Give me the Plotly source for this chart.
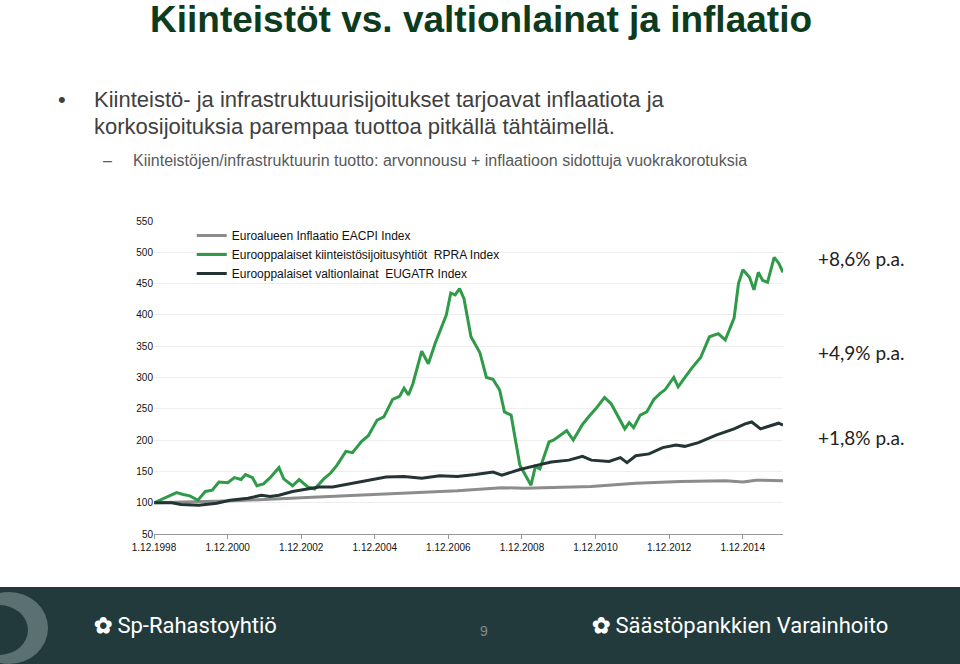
import plotly.graph_objects as go
import pandas as pd

# RPRA (green)
rpra_t = [1998.92,1999.28,1999.53,1999.71,1999.89,2000.11,2000.31,2000.50,2000.68,2000.92,2001.10,2001.28,2001.40,2001.59,2001.71,2001.89,2002.07,2002.31,2002.44,2002.68,2002.86,2003.10,2003.28,2003.53,2003.71,2003.89,2004.13,2004.31,2004.56,2004.74,2004.98,2005.16,2005.40,2005.59,2005.71,2005.83,2005.95,2006.19,2006.37,2006.56,2006.86,2006.98,2007.10,2007.22,2007.34,2007.53,2007.77,2007.95,2008.13,2008.31,2008.44,2008.62,2008.86,2009.16,2009.28,2009.40,2009.65,2009.77,2009.95,2010.13,2010.31,2010.56,2010.74,2010.92,2011.16,2011.34,2011.71,2011.83,2011.95,2012.13,2012.31,2012.50,2012.68,2012.80,2013.04,2013.16,2013.28,2013.53,2013.77,2014.01,2014.25,2014.44,2014.68,2014.80,2014.92,2015.10,2015.22,2015.34,2015.46,2015.59,2015.77,2015.89,2016.01]
rpra_v = [100,110,116,113,111,104,118,120,133,132,140,137,145,140,127,130,140,156,138,127,137,125,122,138,147,160,182,180,198,207,232,237,265,270,283,272,290,342,322,355,400,435,432,442,426,365,340,300,297,280,245,240,160,128,158,154,197,200,208,215,200,225,238,250,268,258,218,228,220,240,245,265,275,280,300,285,295,315,332,365,370,360,395,450,472,460,440,468,455,452,492,483,468]
# EUGATR (dark)
eug_t = [1998.92,1999.40,1999.65,2000.13,2000.62,2000.98,2001.47,2001.83,2002.07,2002.31,2002.68,2003.04,2003.40,2003.77,2004.25,2004.74,2005.22,2005.71,2006.19,2006.68,2007.16,2007.65,2008.13,2008.37,2008.86,2009.34,2009.71,2010.19,2010.56,2010.80,2011.28,2011.59,2011.77,2012.01,2012.37,2012.74,2013.10,2013.34,2013.71,2014.19,2014.68,2014.98,2015.16,2015.40,2015.65,2015.89,2016.01]
eug_v = [100,100,97,96,99,104,107,112,110,112,118,122,125,125,130,135,141,142,139,143,142,145,149,144,153,160,165,168,174,168,166,172,164,175,178,188,192,190,196,208,218,226,229,218,222,227,224]
# EACPI (gray)
cpi_t = [1998.92,2001.10,2002.92,2005.34,2007.16,2008.37,2008.98,2010.80,2012.01,2013.22,2014.44,2014.92,2015.28,2016.01]
cpi_v = [100,103,108,114,119,124,123,126,131,134,135,133,136,135]

names = ["Euroalueen Inflaatio EACPI Index",
         "Eurooppalaiset kiinteistösijoitusyhtiöt  RPRA Index",
         "Eurooppalaiset valtionlainat  EUGATR Index"]
tick_years = [1998, 2000, 2002, 2004, 2006, 2008, 2010, 2012, 2014]
tick_labels = [f"1.12.{y}" for y in tick_years]
y_ticks = [50, 100, 150, 200, 250, 300, 350, 400, 450, 500, 550]
cagr_labels = ["+8,6% p.a.", "+4,9% p.a.", "+1,8% p.a."]

def to_dt(ts):
    out = []
    for t in ts:
        y = int(t); frac = t - y
        out.append(pd.Timestamp(year=y, month=1, day=1) + pd.Timedelta(days=frac * 365.25))
    return out

fig = go.Figure()
fig.add_trace(go.Scatter(x=to_dt(cpi_t), y=cpi_v, name=names[0], mode="lines", line=dict(color="#8c8c8c", width=3)))
fig.add_trace(go.Scatter(x=to_dt(rpra_t), y=rpra_v, name=names[1], mode="lines", line=dict(color="#2f9a48", width=3)))
fig.add_trace(go.Scatter(x=to_dt(eug_t), y=eug_v, name=names[2], mode="lines", line=dict(color="#243333", width=3)))

W, H = 960, 664
pl, pr, pt, pb = 154, 177, 221, 130
pw, ph = W - pl - pr, H - pt - pb

tickvals = [pd.Timestamp(year=y, month=12, day=1) for y in tick_years]
fig.update_layout(
    width=W, height=H, paper_bgcolor="white", plot_bgcolor="white",
    margin=dict(l=pl, r=pr, t=pt, b=pb),
    font=dict(family="Liberation Sans", color="#222"),
    showlegend=True,
    legend=dict(x=0.06, y=1.0, xanchor="left", yanchor="top", bgcolor="rgba(0,0,0,0)",
                font=dict(size=12, color="#111"), tracegroupgap=0, itemwidth=30),
    xaxis=dict(type="date", range=[pd.Timestamp("1998-12-01"), pd.Timestamp("2016-01-05")],
               tickvals=tickvals, ticktext=tick_labels, tickfont=dict(size=10, color="#111"),
               showgrid=False, showline=True, linecolor="#999", ticks="outside", ticklen=4, tickcolor="#999",
               zeroline=False),
    yaxis=dict(range=[50, 550], tickvals=y_ticks, tickfont=dict(size=10, color="#111"),
               showgrid=True, gridcolor="#eeeeee", zeroline=False, ticklen=0, ticks=""),
)

ann = []
ann.append(dict(text="<b>Kiinteistöt vs. valtionlainat ja inflaatio</b>", x=148, y=19, xanchor="left",
                showarrow=False, font=dict(size=37, color="#0d3b1e", family="Liberation Sans")))
for ys, fam, sz, col, xx, txt in [
    (100, "Liberation Sans", 22, "#404040", 92, "Kiinteistö- ja infrastruktuurisijoitukset tarjoavat inflaatiota ja"),
    (127, "Liberation Sans", 22, "#404040", 92, "korkosijoituksia parempaa tuottoa pitkällä tähtäimellä."),
    (160, "Liberation Sans", 16, "#595959", 131, "Kiinteistöjen/infrastruktuurin tuotto: arvonnousu + inflaatioon sidottuja vuokrakorotuksia"),
]:
    ann.append(dict(text=txt, x=xx, y=ys, xanchor="left", showarrow=False, font=dict(size=sz, color=col, family=fam)))
ann.append(dict(text="•", x=62, y=100, showarrow=False, font=dict(size=22, color="#404040")))
ann.append(dict(text="–", x=107, y=160, showarrow=False, font=dict(size=16, color="#595959")))
for txt, yy in zip(cagr_labels, [258, 352, 437]):
    ann.append(dict(text=txt, x=816, y=yy, xanchor="left", showarrow=False, font=dict(size=19, color="#222", family="Lato")))
ann.append(dict(text="9", x=484, y=631, showarrow=False, font=dict(size=14, color="#8a8a8a")))
ann.append(dict(text="<b>✿</b> Sp-Rahastoyhtiö", x=92, y=625, xanchor="left", showarrow=False,
                font=dict(size=22, color="white", family="Roboto")))
ann.append(dict(text="<b>✿</b> Säästöpankkien Varainhoito", x=590, y=625, xanchor="left", showarrow=False,
                font=dict(size=22, color="white", family="Roboto")))
for a in ann:
    a["x"] = (a["x"] - pl) / pw
    a["y"] = 1 - (a["y"] - pt) / ph
    a["xref"] = "paper"; a["yref"] = "paper"; a["yanchor"] = "middle"
    a.setdefault("xanchor", "center")
fig.update_layout(annotations=ann)

def px(x0, y0, x1, y1):
    return dict(x0=(x0 - pl) / pw, x1=(x1 - pl) / pw, y0=1 - (y1 - pt) / ph, y1=1 - (y0 - pt) / ph)

shapes = [
    dict(type="rect", xref="paper", yref="paper", fillcolor="#233a3c", line=dict(width=0), layer="below", **px(0, 587, 960, 664)),
    dict(type="circle", xref="paper", yref="paper", fillcolor="#5b7070", line=dict(width=0), **px(-30, 592, 48, 664)),
    dict(type="circle", xref="paper", yref="paper", fillcolor="#233a3c", line=dict(width=0), **px(-30, 605, 28, 655)),
]
fig.update_layout(shapes=shapes)
fig.write_html("out.html", config={"displayModeBar": False},
               post_script="document.body.style.margin='0';document.body.style.overflow='hidden';")
